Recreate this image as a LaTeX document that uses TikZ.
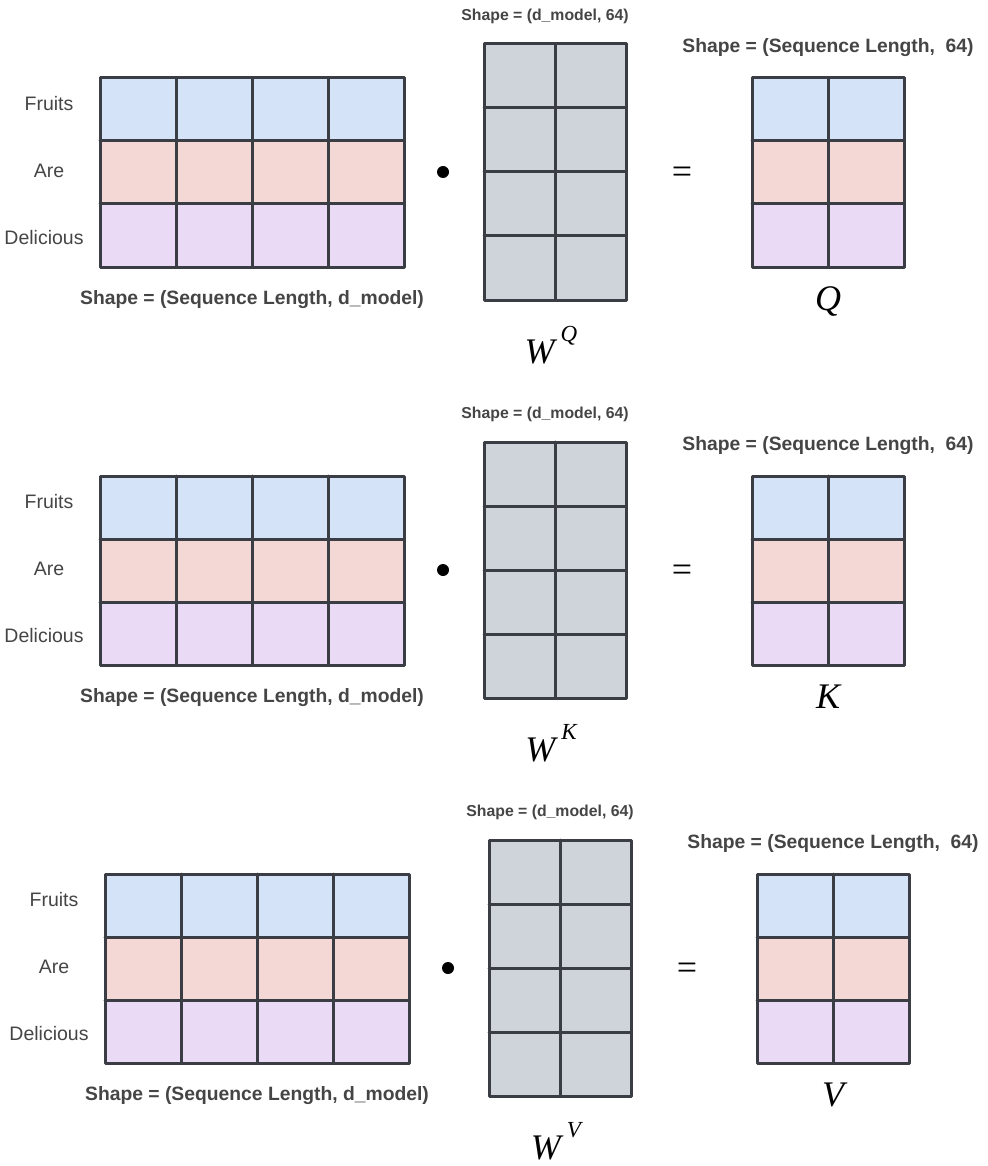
\documentclass[tikz,border=0pt]{standalone}
\usepackage{fontspec}
\setmainfont{Liberation Sans}
\newfontfamily\timesfont{Liberation Serif}
\usepackage{tikz}

\definecolor{rowblue}{HTML}{D5E3F8}
\definecolor{rowpink}{HTML}{F3D8D6}
\definecolor{rowlilac}{HTML}{EADAF6}
\definecolor{wgray}{HTML}{CFD3DA}
\definecolor{gridline}{HTML}{3B3D45}
\definecolor{labelgray}{HTML}{454545}

\begin{document}
\begin{tikzpicture}[x=1pt,y=-1pt,
	cell/.style={draw=gridline,line width=3pt,line cap=round,line join=round},
	word/.style={text=labelgray,font=\fontsize{19.5}{22}\selectfont},
	dimtext/.style={text=labelgray,font=\bfseries\fontsize{19.3}{22}\selectfont},
	wdimtext/.style={text=labelgray,font=\bfseries\fontsize{15.8}{18}\selectfont},
	odimtext/.style={text=labelgray,font=\bfseries\fontsize{19.3}{22}\selectfont},
	mathlbl/.style={anchor=base,inner sep=0pt,font=\timesfont\itshape\fontsize{36}{40}\selectfont},
	eqsign/.style={font=\timesfont\fontsize{36}{40}\selectfont}]
	\useasboundingbox [fill=white] (0,0) rectangle (987,1166);

	\foreach \r/\dx/\dy/\m in {1/0/0/Q,2/0/398/K,3/5/796/V} {
	\begin{scope}[shift={(\dx,\dy)}]
	\fill [rowblue] (100,78) rectangle (404,141);
	\fill [rowpink] (100,141) rectangle (404,204);
	\fill [rowlilac] (100,204) rectangle (404,267);
	\foreach \x in {176,252,328} \draw [cell] (\x,78) -- (\x,267);
	\foreach \y in {141,204} \draw [cell] (100,\y) -- (404,\y);
	\draw [cell] (100,78) rectangle (404,267);

	\node [word] (fruits\r) at (49,104) {Fruits};
	\node [word] (are\r) at (49,171) {Are};
	\node [word] (delicious\r) at (44,238) {Delicious};
	\node [dimtext] (xdim\r) at (252,300) {Shape = (Sequence Length, d\_model)};

	\fill (443,172) circle (6);
	\node [eqsign] (eq\r) at (682,175) {=};

	\fill [wgray] (484,44) rectangle (626,300);
	\draw [cell] (555,44) -- (555,300);
	\foreach \y in {108,172,236} \draw [cell] (484,\y) -- (626,\y);
	\draw [cell] (484,44) rectangle (626,300);
	\node [wdimtext] (wdim\r) at (545,16) {Shape = (d\_model, 64)};
	\node [mathlbl] (wname\r) at (551,363) {W\,\raisebox{22pt}{\fontsize{23}{26}\selectfont \m}};

	\fill [rowblue] (752,78) rectangle (904,141);
	\fill [rowpink] (752,141) rectangle (904,204);
	\fill [rowlilac] (752,204) rectangle (904,267);
	\draw [cell] (828,78) -- (828,267);
	\foreach \y in {141,204} \draw [cell] (752,\y) -- (904,\y);
	\draw [cell] (752,78) rectangle (904,267);
	\node [odimtext] (odim\r) at (828,48) {Shape = (Sequence Length,\ \ 64)};
	\node [mathlbl] (oname\r) at (828,310) {\m};
	\end{scope}
	}
\end{tikzpicture}
\end{document}
